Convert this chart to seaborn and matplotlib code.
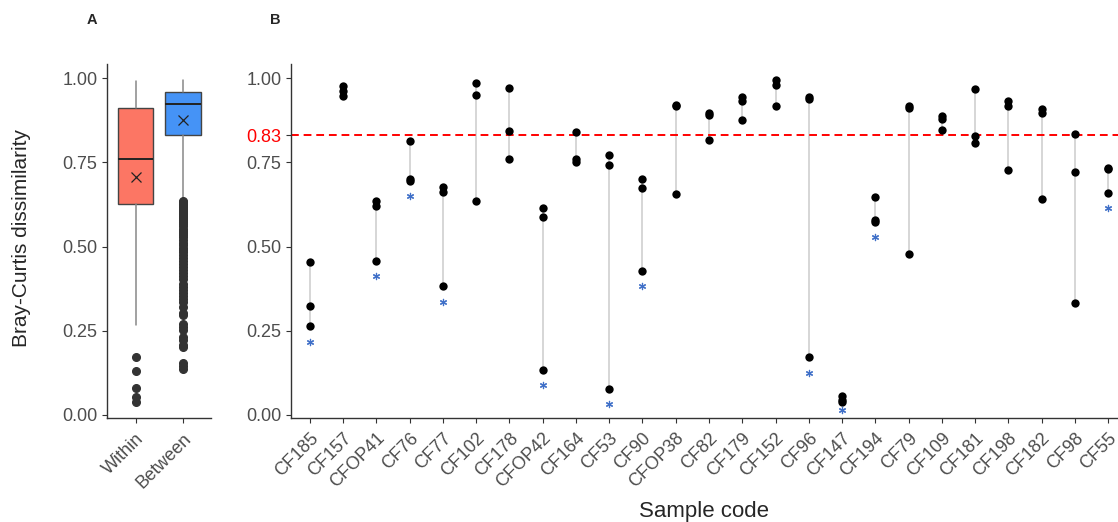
import matplotlib
matplotlib.use("Agg")
import matplotlib.pyplot as plt
import pandas as pd
import numpy as np
import seaborn as sns

# ---- panel A: box statistics ----
groups = ["Within", "Between"]
box_colors = ["#FC7664", "#4593F6"]
q1 = [0.626, 0.831]
med = [0.760, 0.923]
q3 = [0.910, 0.959]
means = [0.707, 0.877]
whis_lo = [0.267, 0.638]
whis_hi = [0.991, 0.994]
within_out = [0.173, 0.131, 0.079, 0.054, 0.040]
between_out = [0.636, 0.631, 0.627, 0.622, 0.617, 0.612, 0.606, 0.601, 0.596, 0.590,
               0.584, 0.579, 0.572, 0.566, 0.560, 0.553, 0.547, 0.540, 0.533, 0.527,
               0.519, 0.512, 0.505, 0.497, 0.490, 0.483, 0.474, 0.466, 0.458, 0.448,
               0.438, 0.431, 0.423, 0.412, 0.403, 0.388, 0.379, 0.370, 0.361, 0.352,
               0.343, 0.334, 0.322, 0.303, 0.296, 0.271, 0.262, 0.252, 0.233, 0.222,
               0.209, 0.201, 0.153, 0.146, 0.136]

# ---- panel B: per-sample dissimilarities ----
samples = ["CF185", "CF157", "CFOP41", "CF76", "CF77", "CF102", "CF178", "CFOP42",
           "CF164", "CF53", "CF90", "CFOP38", "CF82", "CF179", "CF152", "CF96",
           "CF147", "CF194", "CF79", "CF109", "CF181", "CF198", "CF182", "CF98", "CF55"]
values = [
    [0.455, 0.323, 0.265],
    [0.976, 0.962, 0.947],
    [0.636, 0.620, 0.458],
    [0.813, 0.700, 0.695],
    [0.677, 0.663, 0.383],
    [0.986, 0.950, 0.636],
    [0.971, 0.844, 0.761],
    [0.615, 0.588, 0.133],
    [0.839, 0.759, 0.752],
    [0.771, 0.743, 0.077],
    [0.700, 0.675, 0.428],
    [0.921, 0.918, 0.656],
    [0.898, 0.892, 0.815],
    [0.943, 0.931, 0.875],
    [0.994, 0.980, 0.916],
    [0.944, 0.937, 0.171],
    [0.057, 0.045, 0.040],
    [0.648, 0.579, 0.572],
    [0.918, 0.910, 0.478],
    [0.889, 0.880, 0.846],
    [0.968, 0.828, 0.806],
    [0.933, 0.918, 0.728],
    [0.909, 0.898, 0.641],
    [0.834, 0.720, 0.332],
    [0.733, 0.730, 0.658],
]
sig_samples = ["CF185", "CFOP41", "CF76", "CF77", "CFOP42", "CF53", "CF90",
               "CF96", "CF147", "CF194", "CF55"]
star_y = [0.217, 0.412, 0.651, 0.336, 0.089, 0.033, 0.383, 0.126, 0.015, 0.527, 0.614]
threshold = 0.83

df = pd.DataFrame([(s, v) for s, vals in zip(samples, values) for v in vals],
                  columns=["sample", "dissim"])
stars = pd.DataFrame({"sample": sig_samples, "y": star_y})

sns.set_style("ticks")
plt.rcParams["font.family"] = ["Liberation Sans", "DejaVu Sans"]
tick_col = "#4D4D4D"
axis_col = "#333333"

fig = plt.figure(figsize=(11.18, 5.22), dpi=100)
axA = fig.add_axes([0.0957, 0.1992, 0.0930, 0.6782])
axB = fig.add_axes([0.2603, 0.1992, 0.7397, 0.6782])

ylim = (-0.009, 1.042)

# panel A
stats = []
for i, g in enumerate(groups):
    stats.append(dict(label=g, q1=q1[i], med=med[i], q3=q3[i], mean=means[i],
                      whislo=whis_lo[i], whishi=whis_hi[i],
                      fliers=np.array(within_out if i == 0 else between_out)))
bp = axA.bxp(stats, positions=[0, 1], widths=0.75, patch_artist=True, showmeans=True,
             boxprops=dict(edgecolor="#444444", linewidth=1),
             medianprops=dict(color="#222222", linewidth=1.4),
             whiskerprops=dict(color="#888888", linewidth=1.1),
             capprops=dict(linewidth=0),
             flierprops=dict(marker="o", markerfacecolor="#333333", markeredgecolor="#333333",
                             markersize=5.5),
             meanprops=dict(marker="x", markeredgecolor="#222222", markersize=7.5,
                            markeredgewidth=0.9))
for patch, c in zip(bp["boxes"], box_colors):
    patch.set_facecolor(c)
axA.set_xlim(-0.6, 1.58)
axA.set_ylim(*ylim)
axA.set_yticks([0, 0.25, 0.5, 0.75, 1.0])
axA.set_yticklabels(["0.00", "0.25", "0.50", "0.75", "1.00"])
axA.set_xticks([0, 1])
axA.set_xticklabels(groups, rotation=45, ha="right", rotation_mode="anchor")

# panel B
lo = df.groupby("sample", sort=False)["dissim"].min()
hi = df.groupby("sample", sort=False)["dissim"].max()
xpos = np.arange(len(samples))
axB.vlines(xpos, lo.loc[samples].values, hi.loc[samples].values,
           color="#CFCFCF", linewidth=1.2, zorder=1)
sns.stripplot(data=df, x="sample", y="dissim", order=samples, jitter=False,
              color="black", size=6, linewidth=0, ax=axB, zorder=3)
axB.axhline(threshold, color="#FF0000", linestyle=(0, (4, 2.5)), linewidth=1.4, zorder=2)
axB.scatter([samples.index(s) for s in stars["sample"]], stars["y"], marker=(6, 2, 0),
            s=20, color="#4070C8", linewidths=0.9, zorder=4)
axB.set_xlim(-0.57, 24.3)
axB.set_ylim(*ylim)
axB.set_yticks([0, 0.25, 0.5, 0.75, threshold, 1.0])
axB.set_yticklabels(["0.00", "0.25", "0.50", "0.75", "0.83", "1.00"])
axB.set_xticks(xpos)
axB.set_xticklabels(samples, rotation=45, ha="right", rotation_mode="anchor")
axB.set_xlabel("")
axB.set_ylabel("")

for ax in (axA, axB):
    sns.despine(ax=ax)
    for sp in ("left", "bottom"):
        ax.spines[sp].set_color(axis_col)
        ax.spines[sp].set_linewidth(1.0)
    ax.tick_params(axis="both", colors=axis_col, labelcolor=tick_col, labelsize=13,
                   length=3.5, width=0.8)
    ax.tick_params(axis="x", pad=5)
axB.get_yticklabels()[4].set_color("#FF0000")

fig.text(22 / 1118, 1 - 238 / 522, "Bray-Curtis dissimilarity", rotation=90,
         ha="center", va="center", fontsize=15)
fig.text(704 / 1118, 1 - 512 / 522, "Sample code", ha="center", va="center", fontsize=16)
fig.text(92 / 1118, 1 - 20 / 522, "A", ha="center", va="center", fontsize=10.5,
         fontweight="bold")
fig.text(275 / 1118, 1 - 20 / 522, "B", ha="center", va="center", fontsize=10.5,
         fontweight="bold")

fig.savefig("out.png", dpi=100, facecolor="white")
